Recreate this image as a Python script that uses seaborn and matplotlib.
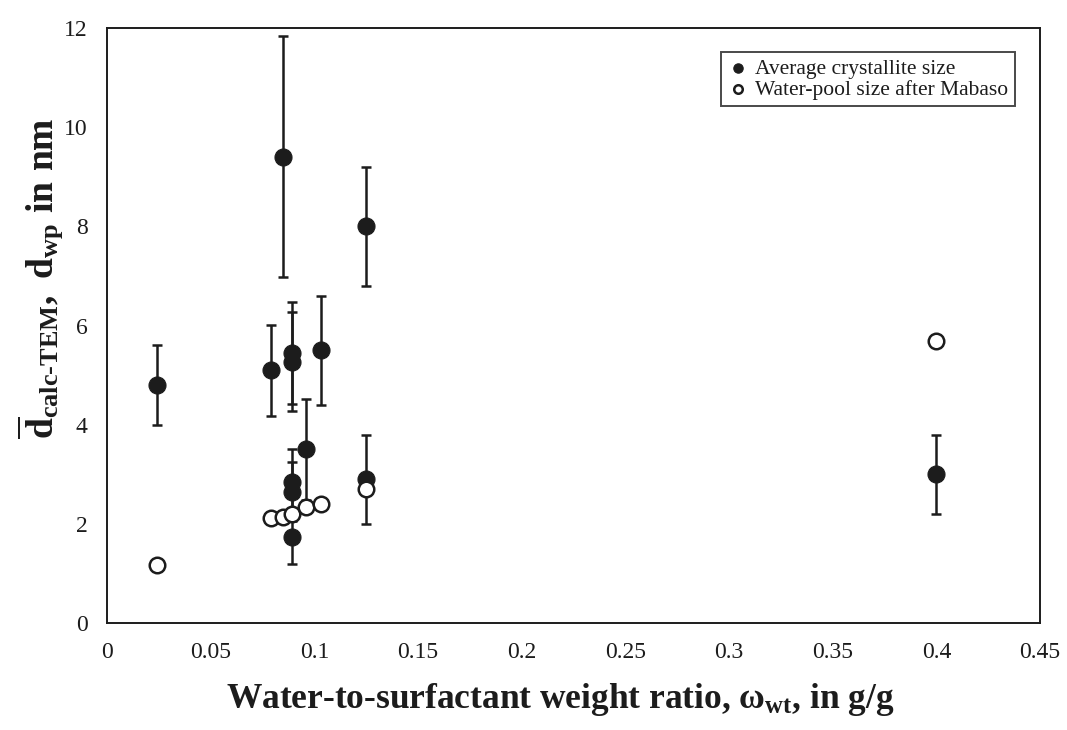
import matplotlib
matplotlib.use("Agg")
import matplotlib.pyplot as plt
import seaborn as sns
import pandas as pd
import numpy as np

# ---- data ----
cryst_x = [0.024, 0.079, 0.085, 0.089, 0.089, 0.089, 0.089, 0.089, 0.096, 0.103, 0.125, 0.125, 0.400]
cryst_y = [4.80, 5.10, 9.40, 5.45, 5.27, 2.85, 2.65, 1.73, 3.50, 5.50, 8.00, 2.90, 3.00]
cryst_err = [0.80, 0.92, 2.43, 1.03, 1.00, 0.65, 0.60, 0.54, 1.02, 1.10, 1.20, 0.90, 0.80]

pool_x = [0.024, 0.079, 0.085, 0.089, 0.096, 0.103, 0.125, 0.400]
pool_y = [1.17, 2.11, 2.14, 2.19, 2.33, 2.41, 2.71, 5.69]

x_ticks = [0, 0.05, 0.1, 0.15, 0.2, 0.25, 0.3, 0.35, 0.4, 0.45]
x_tick_labels = ["0", "0.05", "0.1", "0.15", "0.2", "0.25", "0.3", "0.35", "0.4", "0.45"]
y_ticks = [0, 2, 4, 6, 8, 10, 12]

series_labels = ["Average crystallite size", "Water-pool size after Mabaso"]

sns.set_style("white")
plt.rcParams["font.family"] = ["Liberation Serif", "DejaVu Serif"]
plt.rcParams["mathtext.fontset"] = "custom"
plt.rcParams["mathtext.rm"] = "Liberation Serif:bold"
plt.rcParams["mathtext.bf"] = "Liberation Serif:bold"
plt.rcParams["mathtext.it"] = "Liberation Serif:bold"

ink = "#1c1c1c"

fig = plt.figure(figsize=(10.67, 7.30), dpi=100)
ax = fig.add_axes([107 / 1067, 1 - 623 / 730, (1040 - 107) / 1067, (623 - 28) / 730])

df_c = pd.DataFrame({"x": cryst_x, "y": cryst_y, "err": cryst_err})
df_p = pd.DataFrame({"x": pool_x, "y": pool_y})

ax.errorbar(df_c["x"], df_c["y"], yerr=df_c["err"], fmt="none", ecolor=ink,
            elinewidth=1.8, capsize=3.6, capthick=1.8, zorder=2)
sns.scatterplot(data=df_c, x="x", y="y", ax=ax, color=ink, s=150, edgecolor=ink,
                linewidth=0.8, marker="o", zorder=3, label=series_labels[0])
sns.scatterplot(data=df_p, x="x", y="y", ax=ax, facecolor="white", s=125, edgecolor=ink,
                linewidth=1.8, marker="o", zorder=4, label=series_labels[1])

ax.set_xlim(0, 0.45)
ax.set_ylim(0, 12)
ax.set_xticks(x_ticks)
ax.set_xticklabels(x_tick_labels)
ax.set_yticks(y_ticks)
ax.tick_params(axis="both", direction="out", length=5, width=1.2, color=ink,
               labelsize=17, labelcolor=ink)
ax.tick_params(axis="x", pad=9)
ax.tick_params(axis="y", pad=9)
for s in ax.spines.values():
    s.set_visible(True)
    s.set_color(ink)
    s.set_linewidth(1.4)

ax.set_xlabel(r"Water-to-surfactant weight ratio, ω$_{\mathrm{wt}}$, in g/g",
              fontsize=25.5, fontweight="bold", color=ink)
ax.xaxis.set_label_coords((560 - 107) / 933, -(700 - 623) / 595, transform=ax.transAxes)
ax.xaxis.label.set_va("center")
ax.set_ylabel(r"$\overline{\mathrm{d}}_{\mathrm{calc\text{-}TEM}}\mathrm{,\ d_{wp}\ in\ nm}$",
              fontsize=27, color=ink)
ax.yaxis.set_label_coords(-(107 - 41) / 933, (623 - 278) / 595, transform=ax.transAxes)
ax.yaxis.label.set_va("center")

# legend
handles, labels = ax.get_legend_handles_labels()
leg = ax.legend(handles, labels, loc="upper right",
                bbox_to_anchor=((1015 - 107) / 933, (623 - 52) / 595),
                borderaxespad=0, frameon=True, fancybox=False, fontsize=15.5,
                handletextpad=0.3, borderpad=0.3, labelspacing=0.05,
                handlelength=1.0, markerscale=0.55)
leg.get_frame().set_edgecolor(ink)
leg.get_frame().set_linewidth(1.4)
for t in leg.get_texts():
    t.set_color(ink)

fig.savefig("out.png", dpi=100, facecolor="white")
